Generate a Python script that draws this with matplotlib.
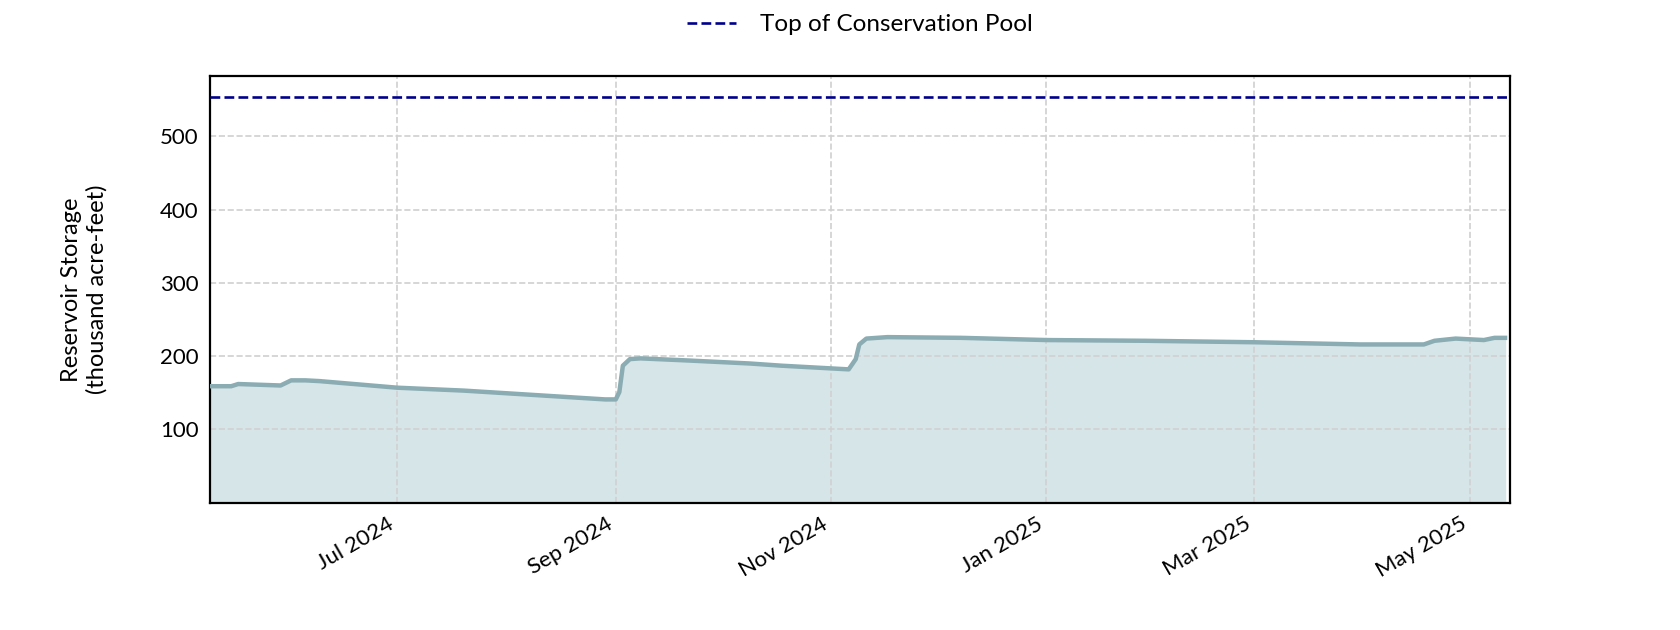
import numpy as np
import pandas as pd
import matplotlib
matplotlib.use("Agg")
import matplotlib.pyplot as plt
import matplotlib.dates as mdates

plt.rcParams['font.family'] = ['Lato', 'DejaVu Sans']

# storage readings (thousand acre-feet)
dates = pd.to_datetime([
    "2024-05-09", "2024-05-15", "2024-05-17", "2024-05-29", "2024-06-01",
    "2024-06-05", "2024-06-09", "2024-07-01", "2024-07-20", "2024-08-09",
    "2024-08-29", "2024-09-01", "2024-09-02", "2024-09-03", "2024-09-05",
    "2024-09-08", "2024-09-22", "2024-10-09", "2024-10-18", "2024-11-06",
    "2024-11-08", "2024-11-09", "2024-11-11", "2024-11-17", "2024-12-08",
    "2025-01-01", "2025-01-29", "2025-03-01", "2025-03-31", "2025-04-18",
    "2025-04-21", "2025-04-27", "2025-05-05", "2025-05-08", "2025-05-11",
])
storage = [
    159, 159, 162, 160, 167,
    167, 166, 157, 153, 147,
    141, 141, 151, 187, 196,
    197, 194, 190, 187, 182,
    196, 216, 224, 226, 225,
    222, 221, 219, 216, 216,
    221, 224, 222, 225, 225,
]
top_of_conservation = 554

fig, ax = plt.subplots(figsize=(16.8, 6.3), dpi=100)
fig.subplots_adjust(left=0.125, right=0.899, top=0.879, bottom=0.202)

ax.fill_between(dates, storage, 0, color="#d6e5e8", zorder=1)
ax.plot(dates, storage, color="#8aacb2", lw=3.2, zorder=3)
ax.axhline(top_of_conservation, color="#00008b", ls="--", lw=1.9,
           label="Top of Conservation Pool", zorder=4)

ax.set_ylim(0, 582)
ax.set_xlim(pd.Timestamp("2024-05-09"), pd.Timestamp("2025-05-12 12:00"))
ax.set_yticks([100, 200, 300, 400, 500])
ax.xaxis.set_major_locator(mdates.MonthLocator(bymonth=[1, 3, 5, 7, 9, 11]))
ax.xaxis.set_major_formatter(mdates.DateFormatter("%b %Y"))
plt.setp(ax.get_xticklabels(), rotation=30, ha="right")

ax.grid(axis="both", color="#d0d0d0", ls="--", lw=1.2, zorder=2)
ax.tick_params(length=0, labelsize=16, pad=8)
for s in ax.spines.values():
    s.set_linewidth(1.6)
ax.set_ylabel("Reservoir Storage\n(thousand acre-feet)", fontsize=17, labelpad=38)

# legend centred over the axes
ax.legend(loc="lower center", bbox_to_anchor=(0.5, 1.045), frameon=False,
          fontsize=17.5, handlelength=2.0, handletextpad=1.0)

fig.savefig("out.png", dpi=100)
